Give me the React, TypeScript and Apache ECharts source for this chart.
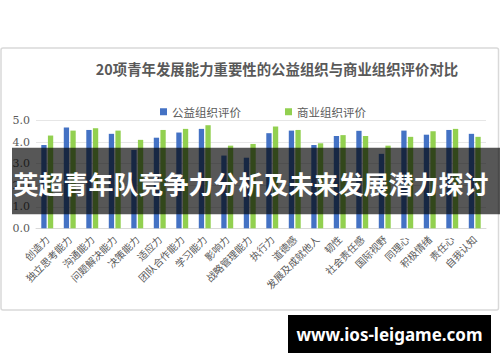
import React, { useEffect, useRef } from "react";
import * as echarts from "echarts";

const titleText = "20项青年发展能力重要性的公益组织与商业组织评价对比";
const seriesNames = ["公益组织评价", "商业组织评价"];
const categories = [
  "创造力", "独立思考能力", "沟通能力", "问题解决能力", "决策能力",
  "适应力", "团队合作能力", "学习能力", "影响力", "战略管理能力",
  "执行力", "道德感", "发展及成就他人", "韧性", "社会责任感",
  "国际视野", "同理心", "积极情绪", "责任心", "自我认知",
];
const publicValues = [
  3.87, 4.68, 4.57, 4.39, 3.64, 4.21, 4.45, 4.62, 3.38, 3.28,
  4.42, 4.54, 3.87, 4.29, 4.53, 3.46, 4.54, 4.35, 4.57, 4.39,
];
const businessValues = [
  4.31, 4.54, 4.65, 4.54, 4.11, 4.57, 4.62, 4.79, 3.84, 3.92,
  4.73, 4.57, 3.95, 4.33, 4.29, 3.84, 4.25, 4.51, 4.62, 4.25,
];
const yTicks = { min: 0, max: 5, interval: 1 };
const bannerText = "英超青年队竞争力分析及未来发展潜力探讨";
const watermarkText = "www.ios-leigame.com";

export default function App() {
  const ref = useRef<HTMLDivElement>(null);
  useEffect(() => {
    if (!ref.current) return;
    const chart = echarts.init(ref.current, null, { renderer: "svg" });
    chart.setOption({
      animation: false,
      backgroundColor: "#ffffff",
      title: {
        text: titleText,
        left: 272,
        top: 56,
        textAlign: "center",
        textStyle: {
          fontFamily: "'Noto Sans CJK SC', serif",
          fontSize: 14.4,
          fontWeight: "bold",
          color: "#595959",
        },
      },
      legend: {
        top: 101,
        left: 155,
        itemWidth: 7,
        itemHeight: 7,
        itemGap: 44,
        icon: "rect",
        textStyle: {
          fontFamily: "'Noto Sans CJK SC', sans-serif",
          fontSize: 11.5,
          color: "#595959",
        },
        data: seriesNames,
      },
      grid: { left: 36, right: 14, top: 120.7, bottom: 133.7 },
      xAxis: {
        type: "category",
        data: categories,
        axisLine: { show: true, lineStyle: { color: "#d9d9d9" } },
        axisTick: { show: false },
        axisLabel: {
          interval: 0,
          rotate: 45,
          margin: 9,
          fontFamily: "'Noto Sans CJK SC', serif",
          fontSize: 10,
          color: "#595959",
        },
      },
      yAxis: {
        type: "value",
        min: yTicks.min,
        max: yTicks.max,
        interval: yTicks.interval,
        axisLine: { show: false },
        axisTick: { show: false },
        splitLine: { lineStyle: { color: "#e6e6e6", width: 1 } },
        axisLabel: {
          formatter: (v: number) => v.toFixed(1),
          fontFamily: "'DejaVu Serif', serif",
          fontSize: 11,
          color: "#595959",
          margin: 6,
        },
      },
      series: [
        {
          name: seriesNames[0],
          type: "bar",
          data: publicValues,
          barWidth: 5.3,
          barGap: "25%",
          itemStyle: { color: "#4472C4" },
        },
        {
          name: seriesNames[1],
          type: "bar",
          data: businessValues,
          barWidth: 5.3,
          barGap: "25%",
          itemStyle: { color: "#92D050" },
        },
      ],
      graphic: [
        {
          type: "rect",
          z: -10,
          silent: true,
          shape: { x: 1, y: 48, width: 497.5, height: 262, r: 2 },
          style: { fill: "#ffffff", stroke: "#d9d9d9", lineWidth: 1.5 },
        },
        {
          type: "rect",
          z: 100,
          silent: true,
          shape: { x: 12, y: 147.7, width: 488, height: 66.6 },
          style: { fill: "rgba(0,0,0,0.66)" },
        },
        {
          type: "text",
          z: 101,
          silent: true,
          x: 251,
          y: 183,
          style: {
            text: bannerText,
            fill: "#ffffff",
            font: "bold 25px 'Noto Sans CJK SC', sans-serif",
            textAlign: "center",
            textVerticalAlign: "middle",
          },
        },
        {
          type: "rect",
          z: 100,
          silent: true,
          shape: { x: 288, y: 315, width: 203, height: 38 },
          style: { fill: "#000000" },
        },
        {
          type: "text",
          z: 101,
          silent: true,
          x: 389.5,
          y: 334,
          style: {
            text: watermarkText,
            fill: "#ffffff",
            font: "bold 17px 'Noto Sans', sans-serif",
            textAlign: "center",
            textVerticalAlign: "middle",
          },
        },
      ],
    });
    return () => chart.dispose();
  }, []);
  return (
    <div
      ref={ref}
      style={{ position: "absolute", left: 0, top: 0, width: 500, height: 362 }}
    />
  );
}
